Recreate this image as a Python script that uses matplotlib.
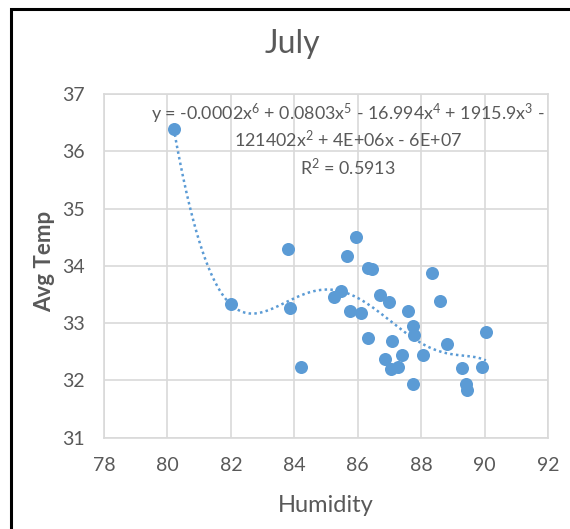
import numpy as np
import matplotlib
matplotlib.use("Agg")
import matplotlib.pyplot as plt
from matplotlib.patches import Rectangle

humidity = [80.2, 82.0, 83.8, 83.88, 84.2, 85.25, 85.48, 85.66, 85.94, 85.76,
            86.11, 86.33, 86.32, 86.46, 86.70, 86.98, 86.87, 87.06, 87.26, 87.08,
            87.40, 87.60, 87.74, 87.78, 87.75, 88.07, 88.33, 88.58, 88.83, 89.30,
            89.40, 89.46, 89.93, 90.04]
avg_temp = [36.39, 33.33, 34.29, 33.26, 32.24, 33.46, 33.56, 34.17, 34.50, 33.22,
            33.18, 33.97, 32.74, 33.94, 33.49, 33.37, 32.38, 32.20, 32.24, 32.69,
            32.45, 33.21, 32.95, 32.79, 31.93, 32.44, 33.88, 33.38, 32.64, 32.21,
            31.93, 31.83, 32.24, 32.84]
x_ticks = [78, 80, 82, 84, 86, 88, 90, 92]
y_ticks = [31, 32, 33, 34, 35, 36, 37]

eq_lines = ["y = -0.0002x$^{6}$ + 0.0803x$^{5}$ - 16.994x$^{4}$ + 1915.9x$^{3}$ -",
            "121402x$^{2}$ + 4E+06x - 6E+07",
            "R$^{2}$ = 0.5913"]

FONT = "Lato"
GREY = "#595959"
BLUE = "#5B9BD5"
plt.rcParams["font.family"] = [FONT, "DejaVu Sans"]
plt.rcParams["mathtext.fontset"] = "custom"
plt.rcParams["mathtext.rm"] = FONT
plt.rcParams["mathtext.it"] = FONT

W, H = 570, 529
fig = plt.figure(figsize=(W / 100, H / 100), dpi=100)
ax = fig.add_axes([104 / W, 1 - 437.7 / H, 444 / W, 343.7 / H])

ax.scatter(humidity, avg_temp, s=88, color=BLUE, zorder=3, linewidths=0)

# 6th order polynomial trendline, like Excel
hx = np.array(humidity)
coef = np.polyfit(hx - 85, np.array(avg_temp), 6)
xs = np.linspace(hx.min(), hx.max(), 300)
ax.plot(xs, np.polyval(coef, xs - 85), ls=(0, (1, 1.3)), lw=1.8, color=BLUE, zorder=2)

ax.set_xlim(78, 92)
ax.set_ylim(31, 37)
ax.set_xticks(x_ticks)
ax.set_yticks(y_ticks)
ax.grid(True, color="#D9D9D9", lw=1.2)
ax.set_axisbelow(True)
for sp in ax.spines.values():
    sp.set_color("#D9D9D9")
    sp.set_linewidth(1.2)
ax.tick_params(length=0, labelsize=14, labelcolor=GREY)
ax.tick_params(axis="x", pad=14)
ax.tick_params(axis="y", pad=14)

ax.set_xlabel("Humidity", fontsize=17, color=GREY, va="baseline")
ax.xaxis.set_label_coords(0.5, (437.7 - 512) / 343.7)
ax.set_ylabel("Avg Temp", fontsize=16, color=GREY, fontweight="bold", va="center")
ax.yaxis.set_label_coords((45 - 104) / 444, (437.7 - 261) / 343.7)

fig.text(292.7 / W, 1 - 52.7 / H, "July", fontsize=23, color=GREY,
         ha="center", va="baseline")
for line, yb in zip(eq_lines, [120, 147.5, 175]):
    fig.text(348 / W, 1 - yb / H, line, fontsize=12.9, color=GREY,
             ha="center", va="baseline")

fig.patches.append(Rectangle((11 / W, -0.1), 1.2, 1 - 9 / H + 0.1,
                             transform=fig.transFigure, fill=False,
                             edgecolor="black", lw=2.2))

fig.savefig("out.png", dpi=100)
